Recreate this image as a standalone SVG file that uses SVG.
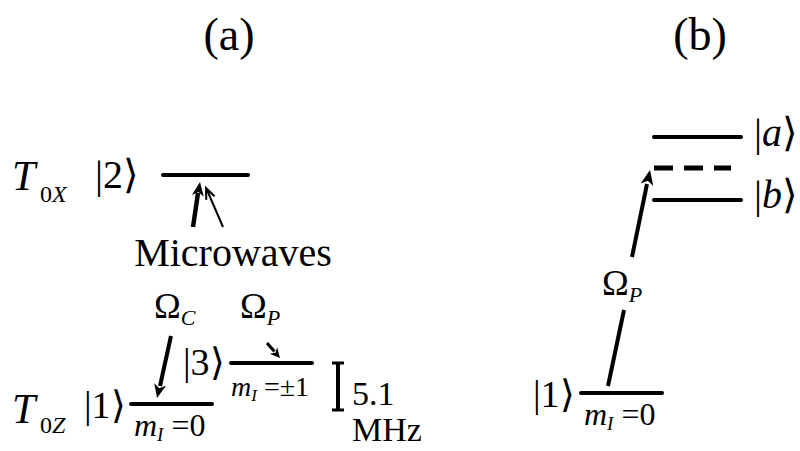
<svg xmlns="http://www.w3.org/2000/svg" width="800" height="451" viewBox="0 0 800 451">
<rect width="800" height="451" fill="#fff"/>
<g font-family="Liberation Serif" fill="#000">
<g id="titles">
<text x="229" y="50" font-size="46" text-anchor="middle">(a)</text>
<text x="700" y="50" font-size="46" text-anchor="middle">(b)</text>
</g>
<g id="label-T0X">
<text x="12" y="190" font-size="42" font-style="italic">T</text>
<text x="40" y="202" font-size="24">0<tspan font-style="italic">X</tspan></text>
</g>
<g id="label-T0Z">
<text x="12" y="423" font-size="42" font-style="italic">T</text>
<text x="40" y="433" font-size="24">0<tspan font-style="italic">Z</tspan></text>
</g>
<g id="state2">
<text x="95" y="188" font-size="40">|2⟩</text>
<line x1="163" y1="175" x2="248" y2="175" stroke="#000" stroke-width="4" stroke-linecap="round"/>
</g>
<g id="state1a">
<text x="84" y="418" font-size="38">|1⟩</text>
<line x1="131" y1="404" x2="212" y2="404" stroke="#000" stroke-width="4" stroke-linecap="round"/>
<text x="134" y="436" font-size="32" font-style="italic">m<tspan font-size="19" dy="5">I</tspan><tspan font-style="normal" dy="-5"> =0</tspan></text>
</g>
<g id="state3">
<text x="183" y="375" font-size="38">|3⟩</text>
<line x1="231" y1="363" x2="312" y2="363" stroke="#000" stroke-width="4" stroke-linecap="round"/>
<text x="231" y="396" font-size="28" font-style="italic">m<tspan font-size="17" dy="5">I</tspan><tspan font-style="normal" dy="-5"> =±1</tspan></text>
</g>
<g id="splitting">
<line stroke="#000" stroke-width="4" x1="338" y1="363" x2="338" y2="410"/>
<line stroke="#000" stroke-width="3" x1="332" y1="363" x2="344" y2="363"/>
<line stroke="#000" stroke-width="3" x1="332" y1="410" x2="344" y2="410"/>
<text x="352" y="405" font-size="34">5.1</text>
<text x="352" y="441" font-size="34">MHz</text>
</g>
<g id="microwaves-label">
<text x="233" y="266" font-size="40" text-anchor="middle">Microwaves</text>
</g>
<g id="omegaC-label">
<text x="154" y="318" font-size="36">Ω<tspan font-style="italic" font-size="22" dy="7">C</tspan></text>
</g>
<g id="omegaP-label-a">
<text x="240" y="318" font-size="36">Ω<tspan font-style="italic" font-size="22" dy="7">P</tspan></text>
</g>
<g id="stateA">
<line x1="654" y1="137" x2="741" y2="137" stroke="#000" stroke-width="4" stroke-linecap="round"/>
<text x="754" y="146" font-size="40">|<tspan font-style="italic">a</tspan>⟩</text>
</g>
<g id="virtual">
<line stroke="#000" stroke-width="5" stroke-dasharray="19,11" x1="654" y1="168" x2="731" y2="168"/>
</g>
<g id="stateB">
<line x1="654" y1="200" x2="741" y2="200" stroke="#000" stroke-width="4" stroke-linecap="round"/>
<text x="754" y="208" font-size="40">|<tspan font-style="italic">b</tspan>⟩</text>
</g>
<g id="state1b">
<text x="533" y="407" font-size="38">|1⟩</text>
<line x1="581" y1="393" x2="662" y2="393" stroke="#000" stroke-width="4" stroke-linecap="round"/>
<text x="584" y="425" font-size="32" font-style="italic">m<tspan font-size="19" dy="5">I</tspan><tspan font-style="normal" dy="-5"> =0</tspan></text>
</g>
<g id="omegaP-label-b">
<text x="602" y="295" font-size="36">Ω<tspan font-style="italic" font-size="22" dy="7">P</tspan></text>
</g>
</g>
<g id="connectors" stroke="#000">
<line stroke-width="4.5" x1="193" y1="227" x2="198" y2="193"/>
<polygon stroke="none" fill="#000" points="200,182 203.8,196.8 198.5,191.9 191.9,195"/>
<line stroke-width="2" x1="223" y1="227" x2="207" y2="190"/>
<polyline fill="none" stroke-width="2" points="214.5,196.3 206,188 206.3,199.9"/>
<line stroke-width="4" x1="171" y1="336" x2="160" y2="386"/>
<polygon stroke="none" fill="#000" points="157,398 154.2,383 159.2,388.3 166,385.7"/>
<line stroke-width="3" x1="267" y1="343" x2="274.5" y2="351.5"/>
<polygon stroke="none" fill="#000" points="280,358 269.7,353.7 275.4,352.7 277.2,347.2"/>
<line stroke-width="4" x1="632" y1="257" x2="647" y2="184"/>
<polygon stroke="none" fill="#000" points="650,170 653.3,186 647.8,180.8 640.6,183.4"/>
<line stroke-width="4" x1="624" y1="310" x2="608" y2="386"/>
</g>
</svg>
